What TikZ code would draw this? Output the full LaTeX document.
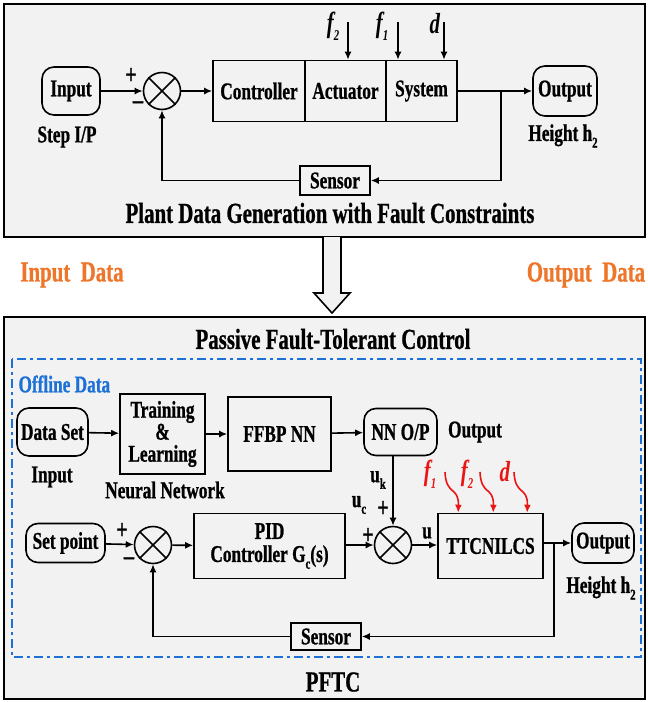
\documentclass[tikz,border=0pt]{standalone}
\usepackage{fontspec}
\setmainfont{Liberation Serif}[FakeStretch=0.72,BoldFeatures={FakeBold=0.8}]
\usepackage{tikz}
\usetikzlibrary{arrows.meta}
\definecolor{panel}{RGB}{242,242,242}
\definecolor{dataorange}{RGB}{237,118,42}
\definecolor{offblue}{RGB}{28,112,214}
\definecolor{faultred}{RGB}{235,20,20}
\newcommand\lowidx[1]{\raisebox{-0.28em}{\fontsize{15}{15}\selectfont #1}}
\tikzstyle{every node}=[font=\bfseries\fontsize{24}{26}\selectfont]
\tikzstyle{block}=[draw,line width=1.6pt,fill=panel,inner sep=2pt]
\tikzstyle{term}=[block,rounded corners=12pt]
\tikzstyle{sum}=[draw,circle,line width=1.6pt,fill=panel,minimum size=37pt,inner sep=0pt]
\tikzstyle{sig}=[-{Latex[length=8pt,width=7pt]},line width=1.6pt]
\tikzstyle{fault}=[-{Latex[length=8pt,width=7pt]},faultred,line width=1.6pt]
\tikzstyle{frame}=[line width=2.4pt,fill=panel]
\tikzstyle{title}=[font=\bfseries\fontsize{29}{31}\selectfont]
\tikzstyle{sign}=[font=\bfseries\fontsize{28}{28}\selectfont,inner sep=0pt]
\tikzstyle{flab}=[font=\bfseries\fontsize{29}{29}\selectfont]

\begin{document}
\begin{tikzpicture}[x=1pt,y=-1pt]
	\useasboundingbox (0,0) rectangle (648,702);

	% plant data generation
	\draw[frame] (4,4) rectangle (645,237);
	\node(inp)[term,minimum width=58pt,minimum height=48pt] at (71,91){Input};
	\node(sum1)[sum] at (162,91){};
	\node(ctrl)[block,minimum width=92pt,minimum height=61pt] at (259,91){Controller};
	\node(act)[block,minimum width=81pt,minimum height=61pt] at (345.5,91){Actuator};
	\node(sys)[block,minimum width=71pt,minimum height=61pt] at (421.5,91){System};
	\node(out1)[term,minimum width=64pt,minimum height=50pt] at (565,91){Output};
	\node(sen1)[block,minimum width=70pt,minimum height=29pt] at (335,180.5){Sensor};
	\coordinate(b1) at (501,91);
	\coordinate(f2t) at (348,22);
	\coordinate(f1t) at (398,22);
	\coordinate(dt) at (444,22);

	\node(pl1)[sign] at (131,76){+};
	\node(mi1)[sign] at (138,105){--};
	\node(f2l)[flab] at (333,26){\textit{f\lowidx{2}}};
	\node(f1l)[flab] at (382,26){\textit{f\lowidx{1}}};
	\node(dl)[flab] at (435,24){\textit{d}};
	\node(stp) at (67,137){Step I/P};
	\node(hgt1) at (563,136){Height h\lowidx{2}};
	\node(tt1)[title] at (330,213){Plant Data Generation with Fault Constraints};

	\draw[line width=1.6pt] (sum1.north west) -- (sum1.south east)
		(sum1.north east) -- (sum1.south west);
	\path[sig]	(inp) edge (sum1)
				(sum1) edge (ctrl)
				(sys) edge (out1)
				(f2t) edge (f2t |- act.north)
				(f1t) edge (f1t |- sys.north)
				(dt) edge (dt |- sys.north);
	\draw[sig] (b1) |- (sen1);
	\draw[sig] (sen1) -| (sum1);

	% hand over of the data
	\draw[line width=1.6pt,fill=panel] (323,237) -- (323,293) -- (314,293) -- (332,313)
		-- (350,293) -- (341,293) -- (341,237);
	\node(indat)[title,dataorange] at (72,275){Input~~Data};
	\node(outdat)[title,dataorange] at (586,275){Output~~Data};

	% passive fault-tolerant control
	\draw[frame] (4,317) rectangle (645,699);
	\node(tt2)[title] at (333,339){Passive Fault-Tolerant Control};
	\draw[offblue,line width=2.2pt,dash pattern=on 9pt off 4pt on 3pt off 4pt] (12,359) rectangle (641,657);
	\node(off)[offblue,anchor=west] at (15,384){Offline Data};

	\node(dset)[term,minimum width=71pt,minimum height=48pt] at (52.5,432){Data Set};
	\node(trn)[block,align=center,minimum width=85pt,minimum height=80pt,inner sep=1pt] at (162.5,434){Training\\[-4pt]\&\\[-4pt]Learning};
	\node(ffbp)[block,minimum width=103pt,minimum height=74pt] at (279.5,434){FFBP NN};
	\node(nnop)[term,minimum width=73pt,minimum height=47pt] at (400.5,432){NN O/P};
	\node(inl) at (52,477){Input};
	\node(nnl) at (165,490){Neural Network};
	\node(outl) at (475,432){Output};

	\node(setp)[term,minimum width=79pt,minimum height=39pt] at (65.5,543){Set point};
	\node(sum2)[sum] at (153,545){};
	\node(pid)[block,align=center,minimum width=151pt,minimum height=65pt] at (269.5,546){PID\\[-3pt]Controller G\lowidx{c}(s)};
	\node(sum3)[sum] at (393,545){};
	\node(ttc)[block,minimum width=105pt,minimum height=65pt] at (490.5,546){TTCNILCS};
	\node(out2)[term,minimum width=62pt,minimum height=40pt] at (603,543){Output};
	\node(sen2)[block,minimum width=70pt,minimum height=27pt] at (326,636.5){Sensor};
	\coordinate(b2) at (554,545);

	\node(pl2)[sign] at (122,531){+};
	\node(mi2)[sign] at (129,561){--};
	\node(ukl) at (378,480){u\lowidx{k}};
	\node(ucl) at (359,505){u\lowidx{c}};
	\node(pl3)[sign] at (383,509){+};
	\node(pl4)[sign] at (368,536){+};
	\node(ul) at (427,533){u};
	\node(hgt2) at (601,588){Height h\lowidx{2}};
	\node(pftc)[title] at (333,682){PFTC};

	\node(f1r)[flab,faultred] at (430,474){\textit{f\lowidx{1}}};
	\node(f2r)[flab,faultred] at (467,474){\textit{f\lowidx{2}}};
	\node(dr)[flab,faultred] at (505,472){\textit{d}};
	\coordinate(fa1) at (445,472);
	\coordinate(fa2) at (480,472);
	\coordinate(fa3) at (514,472);

	\draw[line width=1.6pt] (sum2.north west) -- (sum2.south east)
		(sum2.north east) -- (sum2.south west);
	\draw[line width=1.6pt] (sum3.north west) -- (sum3.south east)
		(sum3.north east) -- (sum3.south west);
	\path[sig]	(dset) edge (trn)
				(trn) edge (ffbp)
				(ffbp) edge (nnop)
				(nnop.south -| sum3) edge (sum3)
				(setp) edge (sum2)
				(sum2) edge (pid)
				(pid.east |- sum3) edge (sum3)
				(sum3) edge (ttc.west |- sum3)
				(ttc.east |- out2) edge (out2);
	\draw[sig] (b2 |- out2) |- (sen2);
	\draw[sig] (sen2) -| (sum2);

	\draw[fault] (fa1) .. controls (446,496) and (459,486) .. ([xshift=21pt]ttc.north west);
	\draw[fault] (fa2) .. controls (481,496) and (494,486) .. ([xshift=56pt]ttc.north west);
	\draw[fault] (fa3) .. controls (515,496) and (528,486) .. ([xshift=90pt]ttc.north west);
\end{tikzpicture}
\end{document}
